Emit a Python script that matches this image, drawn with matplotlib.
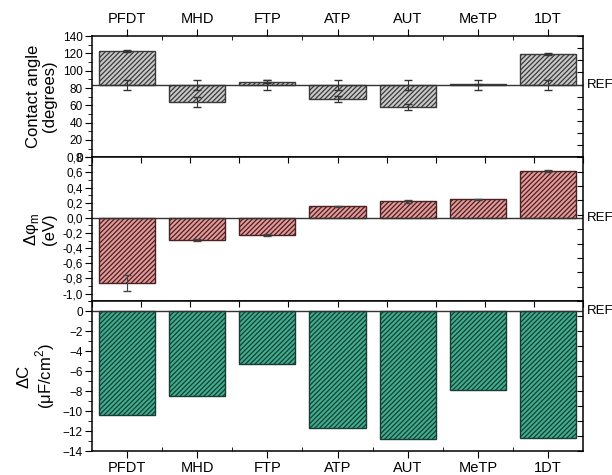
import matplotlib
matplotlib.use("Agg")
import matplotlib.pyplot as plt
import numpy as np
from matplotlib.ticker import MultipleLocator, FuncFormatter

plt.rcParams['font.family'] = ['Liberation Sans', 'DejaVu Sans']
plt.rcParams['hatch.linewidth'] = 0.9

# data
molecules = ['PFDT', 'MHD', 'FTP', 'ATP', 'AUT', 'MeTP', '1DT']
ref_angle = 83.5
ref_angle_err = 5.5
contact_angle = [123, 64, 87.5, 67.5, 58, 84.5, 119]
contact_angle_err = [1.5, 6, 2, 3.5, 3, 0.5, 1]
delta_phi = [-0.86, -0.29, -0.23, 0.15, 0.22, 0.245, 0.62]
delta_phi_err = [0.11, 0.012, 0.01, 0.01, 0.02, 0.006, 0.012]
delta_c = [-10.4, -8.5, -5.3, -11.7, -12.8, -7.9, -12.65]

x = np.arange(len(molecules))
width = 0.8

fig = plt.figure(figsize=(6.12, 4.75), dpi=100)
left, right = 0.150, 0.953
ax1 = fig.add_axes([left, 0.669, right - left, 0.924 - 0.669])
ax2 = fig.add_axes([left, 0.366, right - left, 0.669 - 0.366])
ax3 = fig.add_axes([left, 0.0505, right - left, 0.366 - 0.0505])

comma = FuncFormatter(lambda v, p: ('%.1f' % v).replace('.', ','))

# top panel - contact angle
ax1.bar(x, np.array(contact_angle) - ref_angle, width, bottom=ref_angle,
        color='#c9c9c9', edgecolor='#3a3a3a', hatch='///////', linewidth=1)
ax1.errorbar(x, contact_angle, yerr=contact_angle_err, fmt='none',
             ecolor='#333333', elinewidth=0.8, capsize=3)
ax1.errorbar(x, [ref_angle] * len(x), yerr=ref_angle_err, fmt='none',
             ecolor='#333333', elinewidth=0.8, capsize=3)
ax1.axhline(ref_angle, color='#333333', lw=1)
ax1.set_ylim(0, 140)
ax1.yaxis.set_major_locator(MultipleLocator(20))
ax1.yaxis.set_minor_locator(MultipleLocator(10))
ax1.set_ylabel('Contact angle\n(degrees)', fontsize=12, linespacing=1.1)
ax1.xaxis.tick_top()
ax1.set_xticks(x)
ax1.set_xticklabels(molecules, fontsize=10.5)
ax1.set_xticks(x[:-1] + 0.5, minor=True)
ax1.tick_params(axis='x', which='major', direction='out', length=5, pad=2)
ax1.tick_params(axis='x', which='minor', direction='in', length=3)
ax1.text(6.55, ref_angle, 'REF', fontsize=9.5, va='center', ha='left')

# middle panel - work function change
ax2.bar(x, delta_phi, width, color='#e39a9a', edgecolor='#4a2020',
        hatch='///////', linewidth=1)
ax2.errorbar(x, delta_phi, yerr=delta_phi_err, fmt='none',
             ecolor='#444444', elinewidth=0.8, capsize=3)
ax2.axhline(0, color='#333333', lw=1)
ax2.set_ylim(-1.1, 0.8)
ax2.yaxis.set_major_locator(MultipleLocator(0.2))
ax2.yaxis.set_minor_locator(MultipleLocator(0.1))
ax2.yaxis.set_major_formatter(comma)
ax2.set_ylabel('\u0394\u03c6$_\\mathregular{m}$\n(eV)', fontsize=12, linespacing=1.1)
ax2.text(6.55, 0, 'REF', fontsize=9.5, va='center', ha='left')

# bottom panel - capacitance change
ax3.bar(x, delta_c, width, color='#3fae8f', edgecolor='#173d33',
        hatch='///////', linewidth=1)
ax3.axhline(0, color='#333333', lw=1)
ax3.set_ylim(-14, 1)
ax3.yaxis.set_major_locator(MultipleLocator(2))
ax3.yaxis.set_minor_locator(MultipleLocator(1))
ax3.set_ylabel('\u0394C\n(\u03bcF/cm$^\\mathregular{2}$)', fontsize=12, linespacing=1.1)
ax3.set_xticks(x)
ax3.set_xticklabels(molecules, fontsize=10.5)
ax3.set_xticks(x[:-1] + 0.5, minor=True)
ax3.tick_params(axis='x', which='major', direction='out', length=5, pad=2)
ax3.tick_params(axis='x', which='minor', direction='in', length=3)
ax3.text(6.55, 0, 'REF', fontsize=9.5, va='center', ha='left')

ax2.tick_params(axis='x', which='both', bottom=False, labelbottom=False)

for ax in (ax1, ax2, ax3):
    ax.set_xlim(-0.5, 6.5)
    ax.tick_params(axis='y', which='major', direction='out', length=5, labelsize=8.5, pad=1.5)
    ax.tick_params(axis='y', which='minor', direction='out', length=3)
    for s in ax.spines.values():
        s.set_linewidth(1.1)
    lo, hi = ax.get_ylim()
    sec = ax.secondary_yaxis('right')
    sec.set_yticks(np.linspace(lo, hi, 11))
    sec.tick_params(direction='in', length=4, labelright=False)
    sec.spines['right'].set_visible(False)

for ax in (ax2, ax3):
    top = ax.secondary_xaxis('top')
    top.set_xticks(np.linspace(-0.5, 6.5, 11))
    top.tick_params(direction='in', length=4, labeltop=False)
    top.spines['top'].set_visible(False)

fig.align_ylabels([ax1, ax2, ax3])

fig.savefig('out.png', dpi=100)
